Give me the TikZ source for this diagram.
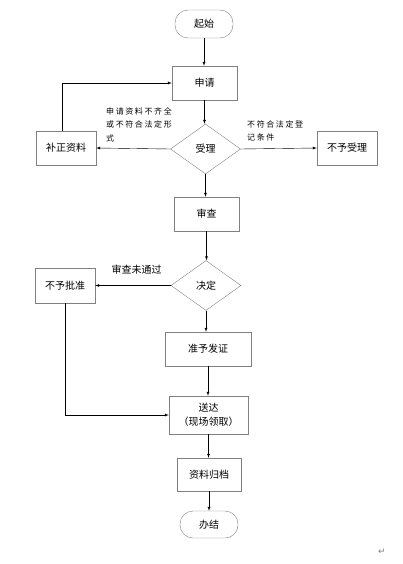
\documentclass[tikz,border=0pt]{standalone}
\usepackage{fontspec}
\setmainfont{Noto Sans CJK SC}
\newfontfamily\notefont[LetterSpace=20]{Noto Sans CJK SC}
\newfontfamily\markfont{DejaVu Sans}
\usetikzlibrary{arrows, shapes.geometric}

\tikzset{
  box/.style={draw=gray, fill=white, minimum width=#1, minimum height=34pt, inner sep=1pt, font=\fontsize{10}{13}\selectfont},
  box/.default=65pt,
  term/.style={draw=gray, rounded corners=13pt, minimum width=58pt, minimum height=28pt, font=\fontsize{10}{13}\selectfont},
  choice/.style={draw=gray, diamond, minimum width=70pt, minimum height=50pt, inner sep=0pt, font=\fontsize{10}{13}\selectfont},
  note/.style={font=\notefont\fontsize{8}{13.5}\selectfont, align=left, inner sep=0pt},
  flow/.style={draw=black, ->, >=latex, thin}
}

\begin{document}
\begin{tikzpicture}[x=1pt, y=-1pt]
    \useasboundingbox (0,0) rectangle (402,564);
    % main column
    \node[term] (qs) at (204,24) {起始};
    \node[box] (sq) at (204.5,83) {申请};
    \node[choice] (sl) at (205.5,149) {受理};
    \node[box=60pt] (bz) at (66,148) {补正资料};
    \node[box=60pt] (bysl) at (347,148) {不予受理};
    \node[box] (sc) at (206.5,214) {审查};
    \node[choice] (jd) at (206,285.5) {决定};
    \node[box=60pt, minimum height=35pt] (bypz) at (65,285.5) {不予批准};
    \node[box=86pt] (fz) at (208,349) {准予发证};
    \node[box=79pt, minimum height=38pt, align=center, font=\fontsize{10}{14}\selectfont] (sd) at (208.5,415) {送达\\（现场领取）};
    \node[box=64pt, minimum height=33pt] (gd) at (209,474.5) {资料归档};
    \node[term, minimum height=27pt] (bj) at (209,524.5) {办结};
    % labels
    \node[note, anchor=west] (l1) at (106,124.5) {申请资料不齐全\\或不符合法定形\\式};
    \node[note, anchor=west] (l2) at (247,131) {不符合法定登\\记条件};
    \node[font=\fontsize{10}{13}\selectfont, inner sep=0pt] (l3) at (136.5,270) {审查未通过};
    \node[font=\markfont\fontsize{9}{10}\selectfont, text=gray, inner sep=0pt] (pm) at (382,552) {↵};
    % connectors
    \foreach \from/\to in {qs/sq, sq/sl, sl/sc, sc/jd, jd/fz, fz/sd, sd/gd, gd/bj}
      \draw[flow] (\from.south) -- (\from.south |- \to.north);
    \draw[flow] (sl.west) -- (bz.east);
    \draw[flow] (sl.east) -- (bysl.west);
    \draw[flow] (jd.west) -- (bypz.east);
    \draw[flow] (bz.north) ++(-4pt,0) |- (sq.west);
    \draw[flow] (bypz.south) |- (sd.west);
\end{tikzpicture}
\end{document}
